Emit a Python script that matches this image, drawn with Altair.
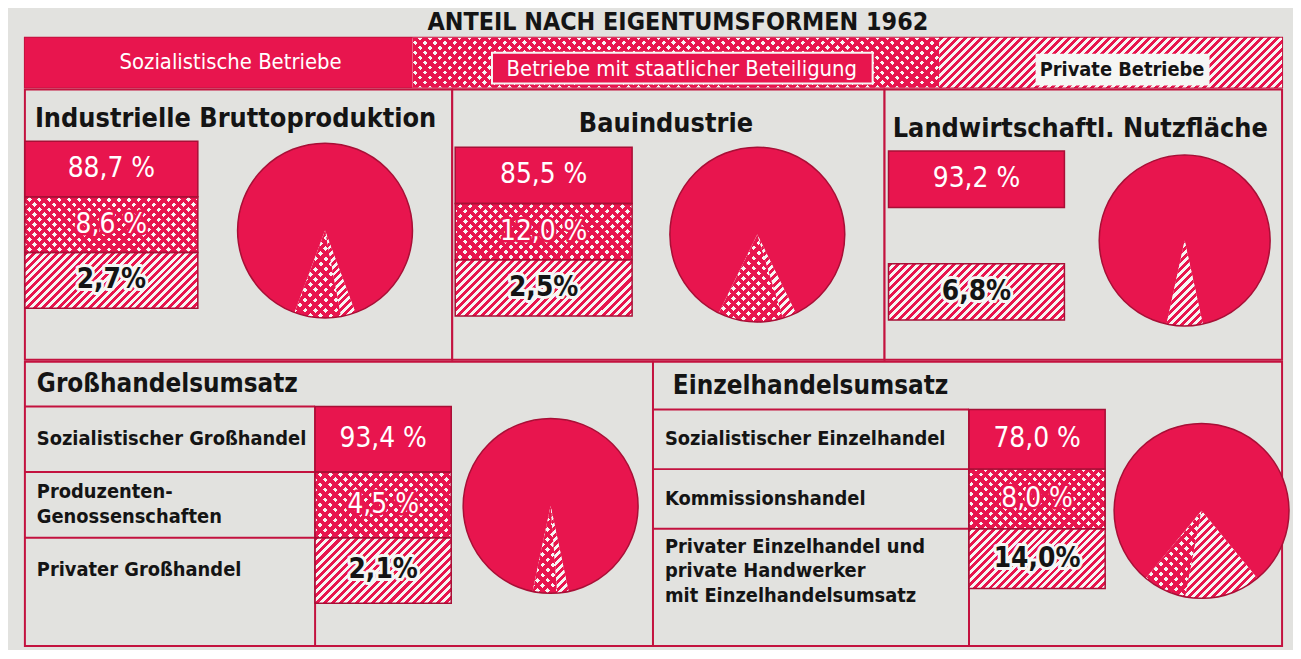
import math
import pandas as pd
import altair as alt

# ---------------- data ----------------
TITLE = "ANTEIL NACH EIGENTUMSFORMEN 1962"
FORM_KEYS = ["sozialistisch", "staatlich", "privat"]
FORM_NAMES = ["Sozialistische Betriebe", "Betriebe mit staatlicher Beteiligung", "Private Betriebe"]
PIE_ORDER = [2, 1, 0]

PANEL_TITLES = ["Industrielle Bruttoproduktion", "Bauindustrie", "Landwirtschaftl. Nutzfläche",
                "Großhandelsumsatz", "Einzelhandelsumsatz"]
INDUSTRIE = [88.7, 8.6, 2.7]
BAUINDUSTRIE = [85.5, 12.0, 2.5]
LANDWIRTSCHAFT = [93.2, None, 6.8]
GROSSHANDEL = [93.4, 4.5, 2.1]
EINZELHANDEL = [78.0, 8.0, 14.0]
GROSS_LABELS = ["Sozialistischer Großhandel", "Produzenten-\nGenossenschaften", "Privater Großhandel"]
EINZEL_LABELS = ["Sozialistischer Einzelhandel", "Kommissionshandel",
                 "Privater Einzelhandel und\nprivate Handwerker\nmit Einzelhandelsumsatz"]

# ---------------- style ----------------
CR = "#e8154e"
CLEAR = "rgba(232,21,78,0)"
DARK = "#a80f36"
LINE = "#c3123f"
BG = "#e2e2df"
PAPER = "#f6f6f4"
INK = "#141414"
FONT = "Liberation Sans Narrow, DejaVu Sans Condensed, Roboto Condensed, sans-serif"
LABEL_FS = 20
LABEL_LH = 25


def pct(v, key):
    s = f"{v:.1f}".replace(".", ",")
    return s + "%" if key == "privat" else s + " %"


def stripes(w, h, c1, c2, period, duty, back=False):
    """hard-edged 45 degree stripes as a linear gradient (bounding-box units)"""
    s = w * (w + h) / (w * w + h * h)
    n = max(1, round((w + h) / period))
    stops = []
    for i in range(n):
        a, b, c = round(i / n, 5), round(min(1, (i + duty) / n), 5), round((i + 1) / n, 5)
        stops += [alt.GradientStop(color=c1, offset=a), alt.GradientStop(color=c1, offset=b),
                  alt.GradientStop(color=c2, offset=b), alt.GradientStop(color=c2, offset=c)]
    if back:
        return alt.LinearGradient(gradient="linear", stops=stops, x1=0, y1=1,
                                  x2=round(s, 4), y2=round(1 - s * h / w, 4))
    return alt.LinearGradient(gradient="linear", stops=stops, x1=0, y1=0,
                              x2=round(s, 4), y2=round(s * h / w, 4))


def hatch(w, h):
    return stripes(w, h, CR, PAPER, 8, 0.5)


def cross(w, h):
    return [stripes(w, h, CR, CLEAR, 10, 0.53, False), stripes(w, h, CR, CLEAR, 10, 0.53, True)]


def panel_df(values, labels=None):
    df = pd.DataFrame({"Form": FORM_KEYS, "Wert": values, "Reihenfolge": PIE_ORDER})
    if labels is not None:
        df["Bezeichnung"] = labels
    df = df.dropna(subset=["Wert"]).reset_index(drop=True)
    df["Text"] = [pct(v, k) for v, k in zip(df["Wert"], df["Form"])]
    return df


def box_layers(df, yscale, x0, x1, band_h, fs=28):
    y = alt.Y("Form:N", scale=yscale, axis=None)
    base = alt.Chart(df)

    def sel(k):
        return base.transform_filter(alt.datum.Form == k)

    enc = dict(y=y, x=alt.value(x0), x2=alt.value(x1))
    w = x1 - x0
    L = [sel("sozialistisch").mark_rect(fill=CR).encode(**enc)]
    if "staatlich" in list(df["Form"]):
        L.append(sel("staatlich").mark_rect(fill=PAPER).encode(**enc))
        for g in cross(w, band_h):
            L.append(sel("staatlich").mark_rect(fill=g).encode(**enc))
    L.append(sel("privat").mark_rect(fill=hatch(w, band_h)).encode(**enc))
    L.append(base.mark_rect(fillOpacity=0, stroke=DARK, strokeWidth=1.5).encode(**enc))
    xc = (x0 + x1) / 2
    tenc = dict(y=y, x=alt.value(xc), text="Text:N")
    light = base.transform_filter(alt.datum.Form != "privat")
    L.append(light.mark_text(font=FONT, fontSize=fs, color=CR, stroke=CR, strokeWidth=5,
                             strokeJoin="round").encode(**tenc))
    L.append(light.mark_text(font=FONT, fontSize=fs, color="white").encode(**tenc))
    L.append(sel("privat").mark_text(font=FONT, fontSize=fs, fontWeight="bold", color=PAPER,
                                     stroke=PAPER, strokeWidth=6, strokeJoin="round").encode(**tenc))
    L.append(sel("privat").mark_text(font=FONT, fontSize=fs, fontWeight="bold", color=INK).encode(**tenc))
    return L


def wedge_box(a_s, a_e, r):
    pts = [(0.0, 0.0), (r * math.sin(a_s), -r * math.cos(a_s)), (r * math.sin(a_e), -r * math.cos(a_e))]
    k = math.ceil(a_s / (math.pi / 2))
    while k * math.pi / 2 < a_e:
        a = k * math.pi / 2
        pts.append((r * math.sin(a), -r * math.cos(a)))
        k += 1
    xs, ys = zip(*pts)
    return max(max(xs) - min(xs), 1.0), max(max(ys) - min(ys), 1.0)


def pie_layers(df, cx, cy, r):
    vals = dict(zip(df["Form"], df["Wert"]))
    small = 100 - vals["sozialistisch"]
    a0 = math.pi - math.pi * small / 100
    tscale = alt.Scale(domain=[0, 100], range=[a0, a0 + 2 * math.pi])
    base = (alt.Chart(df)
            .transform_window(cum="sum(Wert)", sort=[alt.SortField("Reihenfolge")])
            .transform_calculate(start="datum.cum - datum.Wert"))
    enc = dict(theta=alt.Theta("start:Q", scale=tscale), theta2="cum:Q",
               x=alt.value(cx), y=alt.value(cy))
    boxes = {}
    cum = 0.0
    for _, row in df.sort_values("Reihenfolge").iterrows():
        a_s = a0 + 2 * math.pi * cum / 100
        cum += row["Wert"]
        a_e = a0 + 2 * math.pi * cum / 100
        boxes[row["Form"]] = wedge_box(a_s, a_e, r)

    def sel(k):
        return base.transform_filter(alt.datum.Form == k)

    L = [sel("sozialistisch").mark_arc(radius=r, fill=CR).encode(**enc)]
    if "staatlich" in boxes:
        w, h = boxes["staatlich"]
        L.append(sel("staatlich").mark_arc(radius=r, fill=PAPER).encode(**enc))
        for g in cross(w, h):
            L.append(sel("staatlich").mark_arc(radius=r, fill=g).encode(**enc))
    w, h = boxes["privat"]
    L.append(sel("privat").mark_arc(radius=r, fill=hatch(w, h)).encode(**enc))
    L.append(sel("sozialistisch").mark_arc(radius=r, theta=0, theta2=2 * math.pi, fillOpacity=0,
                                           stroke=DARK, strokeWidth=1.5)
             .encode(x=alt.value(cx), y=alt.value(cy)))
    return L


def title_layer(i, x, y, align="center", fs=27):
    return (alt.Chart(pd.DataFrame({"Titel": [PANEL_TITLES[i]]}))
            .mark_text(font=FONT, fontSize=fs, fontWeight="bold", color=INK, align=align, baseline="middle")
            .encode(text="Titel:N", x=alt.value(x), y=alt.value(y)))


def top_panel(i, values, W, H, title_xy, bx, rows, pie):
    df = panel_df(values)
    yscale = alt.Scale(domain=FORM_KEYS, range=list(rows), paddingInner=0, paddingOuter=0)
    band_h = (rows[1] - rows[0]) / 3
    layers = [title_layer(i, *title_xy)]
    layers += box_layers(df, yscale, bx[0], bx[1], band_h)
    layers += pie_layers(df, *pie)
    return alt.layer(*layers).properties(width=W, height=H)


def bottom_panel(i, values, labels, W, H, title_xy, label_w, val_w, header, row_h, pie):
    df = panel_df(values, labels)
    rows = [header, header + 3 * row_h]
    yscale = alt.Scale(domain=FORM_KEYS, range=rows, paddingInner=0, paddingOuter=0)
    base = alt.Chart(df).transform_calculate(n="length(split(datum.Bezeichnung, '\\n'))")
    ymid = alt.Y("Form:N", scale=yscale, axis=None)
    ytop = alt.Y("Form:N", scale=yscale, axis=None, bandPosition=0)
    txt = dict(font=FONT, fontSize=LABEL_FS, fontWeight="bold", color=INK, align="left",
               lineBreak="\n", lineHeight=LABEL_LH)
    layers = [title_layer(i, *title_xy, align="left", fs=26)]
    layers.append(base.mark_rule(color=LINE, strokeWidth=2).encode(
        y=ytop, x=alt.value(0), x2=alt.value(label_w)))
    layers.append(alt.Chart(pd.DataFrame({"Titel": [PANEL_TITLES[i]]})).mark_rule(color=LINE, strokeWidth=2)
                  .encode(x=alt.value(label_w), y=alt.value(header), y2=alt.value(H)))
    layers.append(base.transform_filter("datum.n == 1").mark_text(baseline="middle", **txt)
                  .encode(y=ymid, x=alt.value(12), text="Bezeichnung:N"))
    layers.append(base.transform_filter("datum.n == 2").mark_text(baseline="middle", dy=-LABEL_LH / 2, **txt)
                  .encode(y=ymid, x=alt.value(12), text="Bezeichnung:N"))
    layers.append(base.transform_filter("datum.n > 2").mark_text(baseline="top", dy=8, **txt)
                  .encode(y=ytop, x=alt.value(12), text="Bezeichnung:N"))
    layers += box_layers(df, yscale, label_w, label_w + val_w, row_h)
    layers += pie_layers(df, *pie)
    return alt.layer(*layers).properties(width=W, height=H)


def legend_chart(W, H, c1, c2):
    df = pd.DataFrame({"Form": FORM_KEYS, "Name": FORM_NAMES})
    base = alt.Chart(df)

    def sel(k):
        return base.transform_filter(alt.datum.Form == k)

    def span(a, b, y0=0, y1=H):
        return dict(x=alt.value(a), x2=alt.value(b), y=alt.value(y0), y2=alt.value(y1))

    L = [sel("sozialistisch").mark_rect(fill=CR).encode(**span(0, c1))]
    L.append(sel("staatlich").mark_rect(fill=PAPER).encode(**span(c1, c2)))
    for g in cross(c2 - c1, H):
        L.append(sel("staatlich").mark_rect(fill=g).encode(**span(c1, c2)))
    L.append(sel("privat").mark_rect(fill=hatch(W - c2, H)).encode(**span(c2, W)))
    L.append(sel("staatlich").mark_rect(fill=CR, stroke=PAPER, strokeWidth=2).encode(**span(470, 853, 15, 46)))
    L.append(sel("privat").mark_rect(fill=PAPER).encode(**span(1017, 1192, 16, 48)))
    L.append(sel("sozialistisch").mark_text(font=FONT, fontSize=22, color="white")
             .encode(text="Name:N", x=alt.value(c1 / 2 + 12), y=alt.value(24)))
    L.append(sel("staatlich").mark_text(font=FONT, fontSize=22, color="white")
             .encode(text="Name:N", x=alt.value(661), y=alt.value(31)))
    L.append(sel("privat").mark_text(font=FONT, fontSize=20, fontWeight="bold", color=INK)
             .encode(text="Name:N", x=alt.value(1104), y=alt.value(32)))
    return alt.layer(*L).properties(width=W, height=H)


TOTAL_W = 1265
legend = legend_chart(TOTAL_W, 50, 390, 920)

p1 = top_panel(0, INDUSTRIE, 430, 272, (212, 30), (0, 174), (52, 220), (302, 142, 88))
p2 = top_panel(1, BAUINDUSTRIE, 435, 272, (215, 35), (3, 181), (58, 228), (307, 146, 88))
p3 = top_panel(2, LANDWIRTSCHAFT, 400, 272, (197, 40), (4, 181), (62, 232), (302, 152, 86))

p4 = bottom_panel(3, GROSSHANDEL, GROSS_LABELS, 632, 286, (12, 22), 292, 137, 45, 66, (529, 145, 88))
p5 = bottom_panel(4, EINZELHANDEL, EINZEL_LABELS, 633, 286, (20, 24), 318, 137, 48, 60, (552, 150, 88))

top_row = alt.hconcat(p1, p2, p3, spacing=0, bounds="flush")
bottom_row = alt.hconcat(p4, p5, spacing=0, bounds="flush")

chart = (alt.vconcat(legend, top_row, bottom_row, spacing=0)
         .properties(title=alt.TitleParams(TITLE, font=FONT, fontSize=25, fontWeight="bold", color=INK,
                                           anchor="middle", offset=2, dx=20),
                     padding={"left": 15, "top": 0, "right": 0, "bottom": 0})
         .configure(background=BG)
         .configure_view(stroke=LINE, strokeWidth=2, fill=BG))

chart.save("out.html", embed_options={"renderer": "svg", "actions": False})
